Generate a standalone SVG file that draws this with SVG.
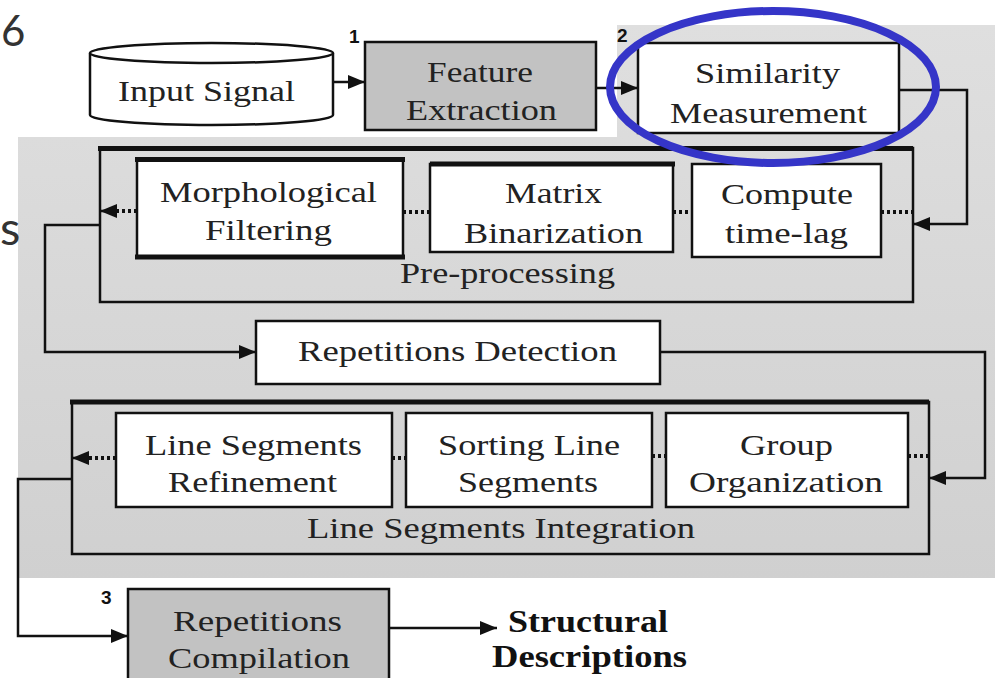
<svg xmlns="http://www.w3.org/2000/svg" width="999" height="678" viewBox="0 0 999 678">
<defs>
<linearGradient id="bg" x1="0" y1="0" x2="0" y2="1">
<stop offset="0" stop-color="#dfdfdf"/>
<stop offset="1" stop-color="#d0d0d0"/>
</linearGradient>
<marker id="ah" markerUnits="userSpaceOnUse" markerWidth="18" markerHeight="14" refX="17" refY="7" orient="auto">
<path d="M0,0 L17,7 L0,14 Z" fill="#111"/>
</marker>
</defs>
<style>
.t{font-family:"Liberation Serif","Times New Roman",serif;font-size:30px;fill:#222}
.b{font-family:"Liberation Serif","Times New Roman",serif;font-size:32px;font-weight:bold;fill:#111}
.n{font-family:"Liberation Sans",Arial,sans-serif;font-size:19px;font-weight:bold;fill:#111}
.bg{font-family:Lato,"Open Sans",sans-serif;font-size:42px;fill:#333}
.box{fill:#fff;stroke:#111;stroke-width:2.5}
.gbox{fill:#c2c2c2;stroke:#111;stroke-width:2.5}
.frame{fill:none;stroke:#111;stroke-width:2.5}
.thick{stroke:#111;stroke-width:5}
.c{fill:none;stroke:#111;stroke-width:2.5}
.d{fill:none;stroke:#111;stroke-width:4;stroke-dasharray:3 3}
</style>
<rect width="999" height="678" fill="#fff"/>
<polygon points="617,25 995,25 995,578 18,578 18,137 617,137" fill="url(#bg)"/>
<text class="bg" x="1" y="46">6</text>
<text class="bg" x="0" y="245" style="font-size:47px">s</text>

<g id="input-signal">
<path d="M90,53 V115 A121.5,10 0 0 0 333,115 V53" fill="#fff" stroke="#111" stroke-width="2.5"/>
<ellipse cx="211.5" cy="53" rx="121.5" ry="10" fill="#fff" stroke="#111" stroke-width="2.5"/>
<text class="t" x="118" y="101" textLength="177" lengthAdjust="spacingAndGlyphs">Input Signal</text>
</g>

<g id="feature-extraction">
<rect class="gbox" x="365" y="42" width="231" height="88"/>
<text class="n" x="349" y="43">1</text>
<text class="t" x="427" y="82" textLength="106" lengthAdjust="spacingAndGlyphs">Feature</text>
<text class="t" x="406" y="120" textLength="151" lengthAdjust="spacingAndGlyphs">Extraction</text>
</g>

<g id="similarity-measurement">
<rect class="box" x="638" y="43" width="261" height="90"/>
<text class="n" x="617" y="42">2</text>
<text class="t" x="695" y="83" textLength="145" lengthAdjust="spacingAndGlyphs">Similarity</text>
<text class="t" x="670" y="123" textLength="197" lengthAdjust="spacingAndGlyphs">Measurement</text>
</g>

<g id="pre-processing">
<rect class="frame" x="100" y="148" width="813" height="154"/>
<line class="thick" x1="98" y1="148.5" x2="913" y2="148.5" stroke-width="3.5"/>
<text class="t" x="400" y="283" textLength="215" lengthAdjust="spacingAndGlyphs">Pre-processing</text>
</g>

<g id="morphological-filtering">
<rect class="box" x="137" y="160" width="266" height="97"/>
<line class="thick" x1="135" y1="159.5" x2="405" y2="159.5"/>
<line class="thick" x1="135" y1="257" x2="405" y2="257"/>
<text class="t" x="160" y="202" textLength="217" lengthAdjust="spacingAndGlyphs">Morphological</text>
<text class="t" x="205" y="240" textLength="127" lengthAdjust="spacingAndGlyphs">Filtering</text>
</g>

<g id="matrix-binarization">
<rect class="box" x="430" y="164" width="243" height="88"/>
<line class="thick" x1="430" y1="164" x2="675" y2="164" stroke-width="3.5"/>
<text class="t" x="505" y="203" textLength="97" lengthAdjust="spacingAndGlyphs">Matrix</text>
<text class="t" x="464" y="243" textLength="179" lengthAdjust="spacingAndGlyphs">Binarization</text>
</g>

<g id="compute-time-lag">
<rect class="box" x="692" y="164" width="189" height="93"/>
<text class="t" x="721" y="204" textLength="132" lengthAdjust="spacingAndGlyphs">Compute</text>
<text class="t" x="725" y="243" textLength="123" lengthAdjust="spacingAndGlyphs">time-lag</text>
</g>

<g id="repetitions-detection">
<rect class="box" x="256" y="321" width="404" height="63"/>
<text class="t" x="298" y="361" textLength="319" lengthAdjust="spacingAndGlyphs">Repetitions Detection</text>
</g>

<g id="line-segments-integration">
<rect class="frame" x="72" y="402" width="857" height="152"/>
<line class="thick" x1="70" y1="402" x2="929" y2="402" stroke-width="5"/>
<text class="t" x="307" y="538" textLength="388" lengthAdjust="spacingAndGlyphs">Line Segments Integration</text>
</g>

<g id="line-segments-refinement">
<rect class="box" x="116" y="413" width="276" height="94"/>
<text class="t" x="145" y="455" textLength="217" lengthAdjust="spacingAndGlyphs">Line Segments</text>
<text class="t" x="168" y="492" textLength="169" lengthAdjust="spacingAndGlyphs">Refinement</text>
</g>

<g id="sorting-line-segments">
<rect class="box" x="406" y="413" width="246" height="94"/>
<text class="t" x="438" y="455" textLength="182" lengthAdjust="spacingAndGlyphs">Sorting Line</text>
<text class="t" x="458" y="492" textLength="140" lengthAdjust="spacingAndGlyphs">Segments</text>
</g>

<g id="group-organization">
<rect class="box" x="666" y="413" width="242" height="94"/>
<text class="t" x="740" y="455" textLength="93" lengthAdjust="spacingAndGlyphs">Group</text>
<text class="t" x="689" y="492" textLength="194" lengthAdjust="spacingAndGlyphs">Organization</text>
</g>

<g id="repetitions-compilation">
<rect class="gbox" x="128" y="589" width="261" height="100"/>
<text class="n" x="101" y="604">3</text>
<text class="t" x="173" y="631" textLength="169" lengthAdjust="spacingAndGlyphs">Repetitions</text>
<text class="t" x="168" y="668" textLength="182" lengthAdjust="spacingAndGlyphs">Compilation</text>
</g>

<g id="structural-descriptions">
<text class="b" x="508" y="632" textLength="160" lengthAdjust="spacingAndGlyphs">Structural</text>
<text class="b" x="492" y="667" textLength="195" lengthAdjust="spacingAndGlyphs">Descriptions</text>
</g>

<g id="connectors">
<line class="c" x1="333" y1="82" x2="365" y2="82" marker-end="url(#ah)"/>
<line class="c" x1="596" y1="88" x2="638" y2="88" marker-end="url(#ah)"/>
<polyline class="c" points="899,90 967,90 967,224 913,224" marker-end="url(#ah)"/>
<line class="d" x1="881" y1="212" x2="913" y2="212"/>
<line class="d" x1="673" y1="212" x2="692" y2="212"/>
<line class="d" x1="403" y1="212" x2="430" y2="212"/>
<line class="d" x1="137" y1="211" x2="116" y2="211"/>
<line class="c" x1="118" y1="211" x2="100" y2="211" marker-end="url(#ah)" stroke-width="1"/>
<polyline class="c" points="100,225 45,225 45,352 256,352" marker-end="url(#ah)"/>
<polyline class="c" points="660,352 985,352 985,478 929,478" marker-end="url(#ah)"/>
<line class="d" x1="908" y1="456" x2="929" y2="456"/>
<line class="d" x1="652" y1="456" x2="666" y2="456"/>
<line class="d" x1="392" y1="458" x2="406" y2="458"/>
<line class="d" x1="116" y1="458" x2="88" y2="458"/>
<line class="c" x1="90" y1="458" x2="72" y2="458" marker-end="url(#ah)" stroke-width="1"/>
<polyline class="c" points="72,479 18,479 18,636 128,636" marker-end="url(#ah)"/>
<line class="c" x1="389" y1="628" x2="497" y2="628" marker-end="url(#ah)"/>
</g>

<ellipse cx="773" cy="87" rx="163" ry="76" fill="none" stroke="#3535c8" stroke-width="8"/>
</svg>
